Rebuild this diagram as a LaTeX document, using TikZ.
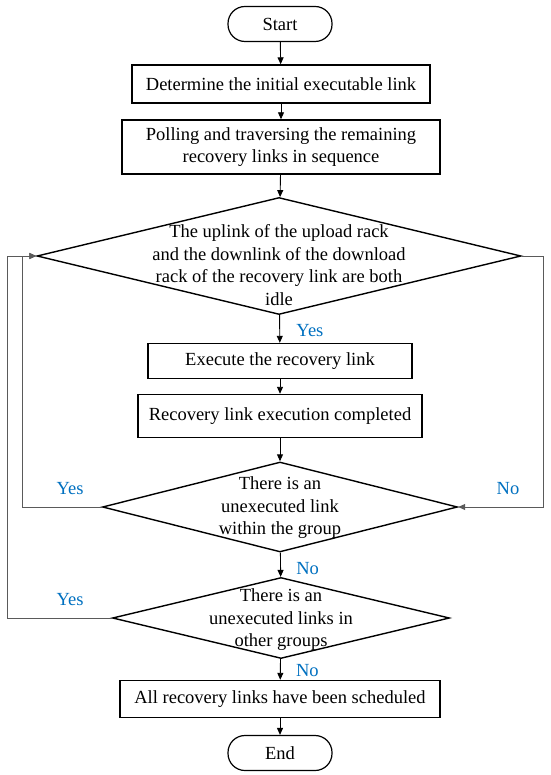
\documentclass[tikz,border=0pt]{standalone}
\usepackage{fontspec}
\setmainfont{Liberation Serif}
\usepackage{tikz}
\usetikzlibrary{arrows.meta, calc, positioning, shapes.geometric}
\usepackage{xcolor}
\definecolor{labelblue}{RGB}{0, 112, 192}
\definecolor{loopgray}{RGB}{90, 90, 90}
\tikzset{
  every node/.style={font=\fontsize{18.5}{22.5}\selectfont},
  terminal/.style={draw, line width=1.2pt, rounded corners=17pt,
                   minimum width=104pt, minimum height=35pt, inner sep=0pt},
  process/.style={draw, line width=1.4pt, align=center, inner sep=0pt},
  decision/.style={draw, line width=1.4pt, shape=diamond, inner sep=0pt},
  flow/.style={-{Triangle[length=7pt, width=6pt]}, line width=0.9pt},
  loopline/.style={-{Triangle[length=7pt, width=6pt]}, loopgray, line width=0.9pt},
  answer/.style={text=labelblue}
}
\begin{document}
\begin{tikzpicture}[x=1pt, y=-1pt]
  \useasboundingbox (0,0) rectangle (550,775);
  %--- main column -----------------------------------------------------------
  \node[terminal] (start) at (280,24) {Start};
  \node[process, minimum width=298pt, minimum height=38pt] (init) at (281,84)
    {Determine the initial executable link};
  \node[process, minimum width=318pt, minimum height=54pt] (poll) at (281,147)
    {Polling and traversing the remaining\\recovery links in sequence};
  \node[decision, minimum width=484pt, minimum height=117pt,
        label={[align=center, yshift=-9pt]center:The uplink of the upload rack\\
          and the downlink of the download\\
          rack of the recovery link are both\\idle}]
    (idle) at (279,256) {};
  \node[process, minimum width=264pt, minimum height=35pt] (exec) at (280,361)
    {Execute the recovery link};
  \node[process, minimum width=284pt, minimum height=43pt] (done) at (280,416)
    {Recovery link execution completed};
  \node[decision, minimum width=355pt, minimum height=90pt,
        label={[align=center, yshift=-1pt]center:There is an\\unexecuted link\\within the group}]
    (ingroup) at (280,507) {};
  \node[decision, minimum width=337pt, minimum height=81pt,
        label={[align=center, yshift=-2pt]center:There is an\\unexecuted links in\\other groups}]
    (othergroup) at (281,618) {};
  \node[process, minimum width=320pt, minimum height=37pt] (sched) at (280,699)
    {All recovery links have been scheduled};
  \node[terminal] (end) at (280,753) {End};
  % straight arrows
  \draw[flow] (start) -- (init);
  \draw[flow] (init) -- (poll);
  \draw[flow] (poll) -- (idle);
  \draw[flow] (idle) -- (exec) node[answer, pos=0.55, right=13pt] {Yes};
  \draw[flow] (exec) -- (done);
  \draw[flow] (done) -- (ingroup);
  \draw[flow] (ingroup) -- (othergroup) node[answer, pos=0.65, right=12pt] {No};
  \draw[flow] (othergroup) -- (sched) node[answer, pos=0.55, right=12pt] {No};
  \draw[flow] (sched) -- (end);
  %--- feedback loops --------------------------------------------------------
  \coordinate (rightbend) at (543,256);
  \coordinate (innerbend) at (22,507);
  \coordinate (outerbend) at (7,618);
  \draw[loopline] (idle.east) -- (rightbend) |- (ingroup.east);
  \draw[loopline] (ingroup.west) -- (innerbend) |- (idle.west);
  \draw[loopline] (othergroup.west) -- (outerbend) |- (idle.west);
  \node[answer] (noright) at (508,489) {No};
  \node[answer] (yesinner) at (70,489) {Yes};
  \node[answer] (yesouter) at (70,600) {Yes};
\end{tikzpicture}
\end{document}
